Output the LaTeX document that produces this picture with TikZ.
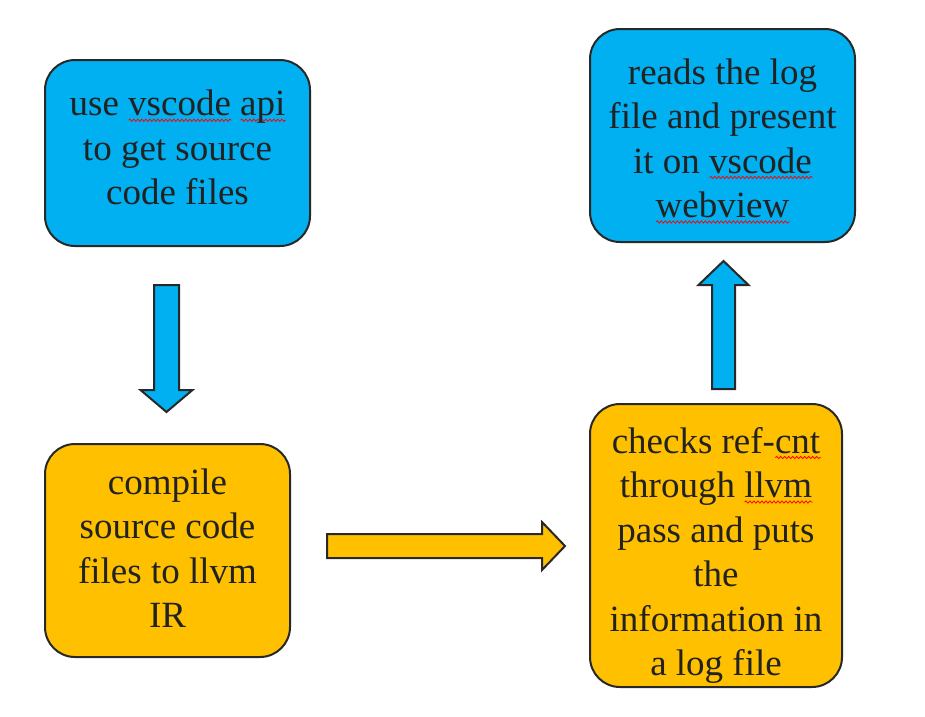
\documentclass[tikz,border=0pt]{standalone}
\usepackage{fontspec}
\setmainfont{Liberation Serif}
\usetikzlibrary{decorations.pathmorphing}
\definecolor{boxblue}{RGB}{0,176,240}
\definecolor{boxorange}{RGB}{255,192,0}
\definecolor{edgegrey}{RGB}{40,40,40}
\definecolor{ink}{RGB}{34,34,34}
\newsavebox\wavybox
\newcommand\wavy[1]{\sbox\wavybox{#1}\rlap{\tikz[baseline=0pt,x=1pt,y=1pt]\draw[red,line width=0.8pt,decorate,decoration={snake,amplitude=1.1pt,segment length=4pt}] (0,-4.5) -- (\the\wd\wavybox,-4.5);}\usebox\wavybox}
\newcommand\ls{\rule[-14.5pt]{0pt}{44.5pt}}
\begin{document}
\begin{tikzpicture}[x=1pt,y=-1pt,
  box/.style={draw=edgegrey, line width=2pt, rounded corners=30pt, inner sep=0pt, outer sep=0pt},
  boxlabel/.style={text=ink, align=center, font=\fontsize{37}{44.5}\selectfont, inner sep=0pt},
  blockarrow/.style={draw=edgegrey, line width=2pt, line join=miter}]
\fill[white] (0,0) rectangle (925,716);
\useasboundingbox (0,0) rectangle (925,716);

% boxes
\node[box, fill=boxblue, minimum width=265pt, minimum height=186pt] (b1) at (177.5,153) {};
\node[box, fill=boxblue, minimum width=265pt, minimum height=213pt] (b2) at (722.5,135.5) {};
\node[box, fill=boxorange, minimum width=245pt, minimum height=213pt] (b3) at (167.5,550.5) {};
\node[box, fill=boxorange, minimum width=252pt, minimum height=283pt] (b4) at (716,545.5) {};

% texts
\node[boxlabel] (t1) at (177.5,152.5) {\ls use \wavy{vscode} \wavy{api}\\\ls to get source\\\ls code files};
\node[boxlabel] (t2) at (722.5,143) {\ls reads the log\\\ls file and present\\\ls it on \wavy{vscode}\\\ls \wavy{webview}};
\node[boxlabel] (t3) at (167.5,553) {\ls compile\\\ls source code\\\ls files to llvm\\\ls IR};
\node[boxlabel] (t4) at (716,556.5) {\ls checks ref-\wavy{cnt}\\\ls through \wavy{llvm}\\\ls pass and puts\\\ls the\\\ls information in\\\ls a log file};

% block arrows
\draw[blockarrow, fill=boxblue] (154,285) -- (179,285) -- (179,390) -- (192.5,390) -- (166.5,412) -- (140.5,390) -- (154,390) -- cycle;
\draw[blockarrow, fill=boxorange] (327,534) -- (542,534) -- (542,522) -- (565,546) -- (542,570) -- (542,558) -- (327,558) -- cycle;
\draw[blockarrow, fill=boxblue] (712,389) -- (735,389) -- (735,285) -- (748.5,285) -- (723.5,261) -- (698.5,285) -- (712,285) -- cycle;
\end{tikzpicture}
\end{document}
